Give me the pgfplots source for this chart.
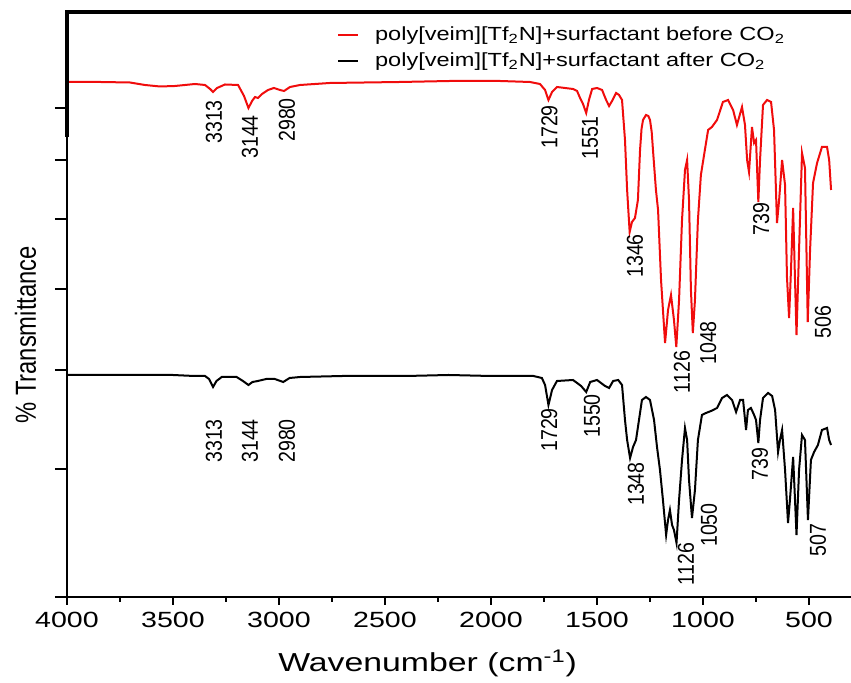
\documentclass[border=0pt]{standalone}
\usepackage{fontspec}
\setmainfont{Liberation Sans}
\newfontfamily\hfont{Liberation Sans}[FakeStretch=1.3]
\newfontfamily\lfont{Liberation Sans}[FakeStretch=1.24]
\newfontfamily\vfont{Liberation Sans}[FakeStretch=0.85]
\newfontfamily\yfont{Liberation Sans}[FakeStretch=0.82]
\usepackage{pgfplots}
\pgfplotsset{compat=1.18}
\definecolor{specred}{RGB}{240,12,12}
\begin{document}
\begin{tikzpicture}
\useasboundingbox (-33.5pt,-43pt) rectangle (392pt,298.5pt);
\begin{axis}[
  scale only axis, width=392pt, height=292.5pt,
  x dir=reverse, xmin=302, xmax=4000, ymin=0, ymax=585,
  axis x line=box, axis y line=left,
  axis line style={-, line width=1pt, black},
  tick align=outside, xtick pos=left,
  xtick={500,1000,...,4000}, minor x tick num=1,
  major tick length=4pt, minor tick length=2.5pt,
  tick style={line width=0.9pt, black},
  ytick=\empty,
  extra y ticks={0,128,227,308,378,437,489},
  extra y tick labels={},
  extra y tick style={major tick length=6pt},
  /pgf/number format/assume math mode=true,
  /pgf/number format/1000 sep={},
  xticklabel style={font=\hfont\fontsize{11}{12}\selectfont},
  xlabel={Wavenumber (cm\textsuperscript{-1})},
  xlabel style={font=\hfont\fontsize{13}{14}\selectfont, at={(axis description cs:0.460,-0.113)}, anchor=center},
  ylabel={\% Transmittance},
  ylabel style={font=\yfont\fontsize{14.5}{15}\selectfont, at={(axis description cs:-0.053,0.448)}, anchor=center, rotate=0},
  clip=false,
  legend style={at={(axis description cs:0.344,0.983)}, anchor=north west, draw=none, fill=none, inner sep=0pt,
    font=\lfont\fontsize{9.5}{11}\selectfont, row sep=1pt, cells={anchor=west}},
  legend image code/.code={\draw[#1] (0pt,0pt) -- (10pt,0pt);},
  /tikz/every odd column/.append style={column sep=6pt},
]
\addplot[specred, line width=1pt] coordinates {
(4000,515)(3844,515)(3703,514.5)(3632,512)(3561,510.5)(3491,511)(3396,513)(3349,512)(3325,508)(3311,505)(3292,509)(3255,512.5)(3193,512)(3165,501)(3144,489)(3127,496)(3113,500)(3099,499)(3080,503)(3052,507)(3024,509)(2995,507)(2976,506)(2948,510)(2901,512)(2760,514)(2429,515)(2193,516)(1958,516)(1816,515)(1769,513)(1745,507)(1729,497)(1712,505)(1689,510)(1651,509)(1613,508)(1594,506)(1580,499)(1566,493)(1551,484)(1538,497)(1523,508)(1500,509)(1476,507)(1457,497)(1443,491)(1429,496)(1410,504)(1396,502)(1382,497)(1368,457)(1358,407)(1346,365)(1335,375)(1321,379)(1307,397)(1297,447)(1290,468)(1283,477)(1269,482)(1258,481)(1250,477)(1242,465)(1236,447)(1222,407)(1212,387)(1198,317)(1179,254)(1165,287)(1151,302)(1137,277)(1126,250)(1113,297)(1099,377)(1085,427)(1075,437)(1066,397)(1057,307)(1048,264)(1038,297)(1024,377)(1010,422)(995,442)(976,467)(958,470)(934,477)(906,495)(882,497)(858,487)(840,472)(816,490)(802,472)(792,437)(783,425)(769,470)(759,454)(750,457)(739,395)(731,437)(717,492)(698,497)(679,495)(665,467)(651,374)(641,397)(627,437)(613,412)(604,320)(594,279)(585,327)(575,389)(566,317)(559,262)(547,347)(533,444)(519,429)(506,275)(495,347)(481,414)(462,434)(439,450)(415,450)(405,437)(396,407)
};
\addlegendentry{poly[veim][Tf\textsubscript{2}N]+surfactant before CO\textsubscript{2}}
\addplot[black, line width=1pt] coordinates {
(4000,222)(3844,222)(3700,222)(3500,222)(3400,221)(3349,221)(3330,218)(3311,210)(3295,216)(3270,220)(3200,220)(3170,216)(3144,212)(3125,215)(3100,216)(3060,218)(3020,218)(2980,215)(2950,219)(2900,220)(2700,221)(2400,221)(2200,222)(2000,221)(1800,221)(1760,219)(1745,212)(1729,192)(1712,207)(1689,216)(1613,217)(1575,211)(1551,205)(1532,215)(1500,217)(1462,211)(1443,209)(1424,216)(1400,217)(1382,212)(1368,177)(1358,157)(1344,139)(1330,150)(1316,157)(1302,177)(1288,197)(1269,200)(1250,197)(1231,177)(1217,150)(1203,127)(1189,97)(1174,62)(1165,77)(1156,87)(1146,72)(1137,67)(1125,54)(1113,97)(1099,137)(1085,169)(1075,157)(1066,117)(1052,79)(1038,107)(1024,157)(1005,182)(986,184)(962,186)(934,189)(910,199)(887,202)(863,197)(844,185)(825,197)(811,197)(797,167)(788,187)(774,189)(759,182)(750,177)(739,154)(731,177)(717,199)(693,204)(674,201)(660,187)(646,145)(637,157)(627,167)(613,127)(599,74)(590,97)(575,140)(566,97)(559,62)(547,127)(533,162)(519,157)(505,77)(491,137)(476,145)(458,152)(439,167)(415,169)(405,157)(396,152)
};
\addlegendentry{poly[veim][Tf\textsubscript{2}N]+surfactant after CO\textsubscript{2}}
% thicker upper spines
\draw[line width=2pt, black] (axis cs:4000,460) -- (axis cs:4000,585) -- (axis cs:302,585);
% peak labels
\begin{scope}[every node/.style={rotate=90, font=\vfont\fontsize{11.5}{12}\selectfont, inner sep=0pt}]
\node at (axis cs:3307,475) {3313};
\node at (axis cs:3137,460) {3144};
\node at (axis cs:2962,477) {2980};
\node at (axis cs:1724,470) {1729};
\node at (axis cs:1533,459) {1551};
\node at (axis cs:1321,341) {1346};
\node at (axis cs:1099,225) {1126};
\node at (axis cs:976,254) {1048};
\node at (axis cs:726,378) {739};
\node at (axis cs:434,275) {506};
\node at (axis cs:3307,156) {3313};
\node at (axis cs:3137,156) {3144};
\node at (axis cs:2962,156) {2980};
\node at (axis cs:1726,167) {1729};
\node at (axis cs:1524,181) {1550};
\node at (axis cs:1316,113) {1348};
\node at (axis cs:1080,33) {1126};
\node at (axis cs:972,72) {1050};
\node at (axis cs:731,133) {739};
\node at (axis cs:458,57) {507};
\end{scope}
\end{axis}
\end{tikzpicture}
\end{document}
